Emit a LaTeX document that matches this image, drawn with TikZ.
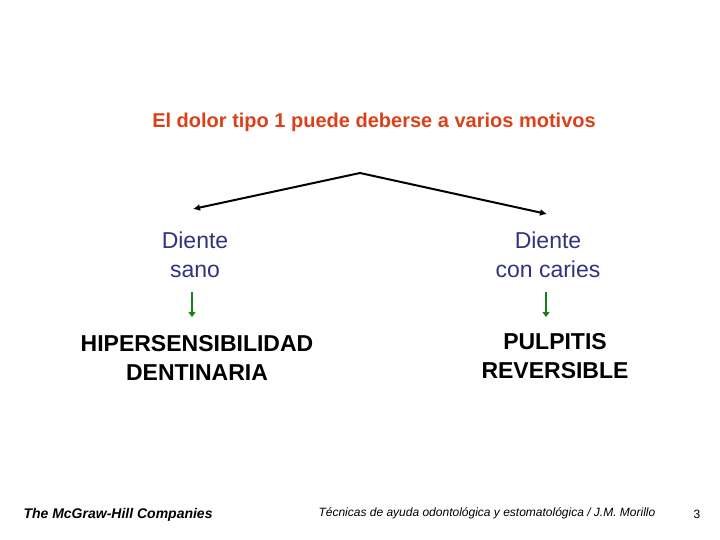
\documentclass[tikz,border=0pt]{standalone}
\usepackage{fontspec}
\setmainfont{Liberation Sans}
\usetikzlibrary{positioning, arrows.meta}

\definecolor{titlered}{RGB}{220,64,24}
\definecolor{causeblue}{RGB}{50,50,128}
\definecolor{stepgreen}{RGB}{20,130,20}

\begin{document}
\begin{tikzpicture}[
    x=1pt, y=-1pt,
    title/.style={
        text=titlered,
        font=\fontsize{20}{24}\selectfont\bfseries
    },
    cause/.style={
        text=causeblue,
        align=center,
        font=\fontsize{23}{29}\selectfont
    },
    result/.style={
        align=center,
        font=\fontsize{23}{29}\selectfont\bfseries
    },
    branch/.style={
        -{Latex[length=7pt,width=7pt]},
        line width=2pt
    },
    leads/.style={
        -{Triangle[length=5pt,width=7pt]},
        stepgreen,
        line width=1.8pt
    }
]
\useasboundingbox (0,0) rectangle (720,540);

\node[title] (motivos) at (374,122) {El dolor tipo 1 puede deberse a varios motivos};

\coordinate (apex) at (360,173);

\node[cause] (sano) at (195,255) {Diente\\sano};
\node[cause] (caries) at (548,255) {Diente\\con caries};

\node[result] (hiper) at (197,358) {HIPERSENSIBILIDAD\\DENTINARIA};
\node[result] (pulpitis) at (555,356) {PULPITIS\\REVERSIBLE};

\coordinate (sanotip) at (193,209);
\coordinate (cariestip) at (547,214);

\draw[branch] (apex) -- (sanotip);
\draw[branch] (apex) -- (cariestip);

\draw[leads] ([xshift=-3pt]sano.south |- 0,292) -- ([xshift=-3pt]sano.south |- 0,317);
\draw[leads] ([xshift=-2pt]caries.south |- 0,292) -- ([xshift=-2pt]caries.south |- 0,317);

% pie de pagina
\node[font=\fontsize{14}{16}\selectfont\bfseries\itshape, anchor=west] (editorial) at (20,515) {The McGraw-Hill Companies};
\node[font=\fontsize{12}{14}\selectfont\itshape, anchor=west] (obra) at (315,513) {Técnicas de ayuda odontológica y estomatológica / J.M. Morillo};
\node[font=\fontsize{12}{14}\selectfont] (pagina) at (697,514) {3};

\end{tikzpicture}
\end{document}
